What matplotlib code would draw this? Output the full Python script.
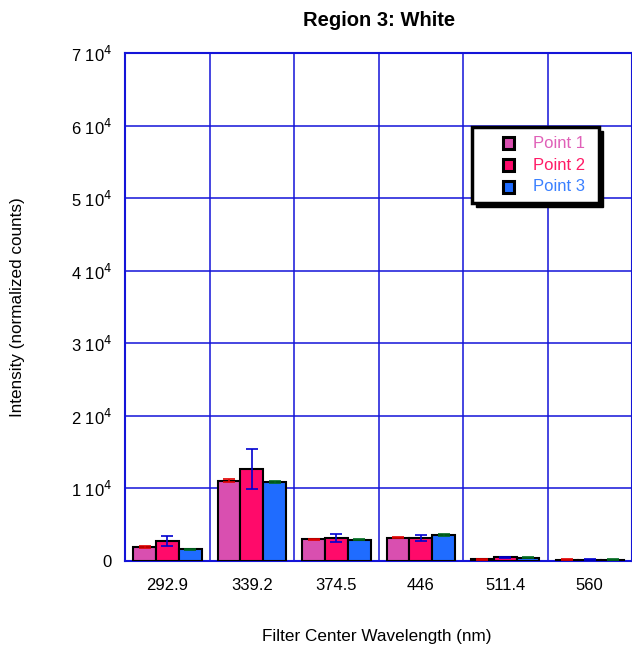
import matplotlib
matplotlib.use("Agg")
import matplotlib.pyplot as plt
import numpy as np
from matplotlib.patches import Rectangle

plt.rcParams['font.family'] = ['Liberation Sans', 'DejaVu Sans']

wavelengths = ["292.9", "339.2", "374.5", "446", "511.4", "560"]
point1 = [1970, 11100, 2990, 3210, 230, 200]
point2 = [2750, 12700, 3170, 3200, 510, 200]
point3 = [1610, 10900, 2940, 3580, 460, 200]
err1 = [150, 150, 60, 100, 40, 30]
err2 = [700, 2750, 550, 450, 60, 30]
err3 = [80, 200, 60, 100, 60, 30]

series_names = ["Point 1", "Point 2", "Point 3"]
bar_colors = ["#d94fb0", "#ff0a6a", "#1f6cff"]
text_colors = ["#e060b8", "#ff1a66", "#3a80ff"]
err_colors = ["#e00000", "#0000d0", "#006a20"]
grid_blue = "#1414d8"

fig = plt.figure(figsize=(6.32, 6.49), dpi=100)
ax = fig.add_axes([0.198, 0.1356, 0.802, 0.782])

x = np.arange(len(wavelengths))
w = 0.27
for i, (vals, errs) in enumerate(zip([point1, point2, point3], [err1, err2, err3])):
    pos = x + (i - 1) * w
    ax.bar(pos, vals, width=w, color=bar_colors[i], edgecolor="black",
           linewidth=1.5, zorder=3)
    ax.errorbar(pos, vals, yerr=errs, fmt="none", ecolor=err_colors[i],
                elinewidth=1.2, capsize=4, capthick=1.2, zorder=4)

ax.set_xlim(-0.5, 5.5)
ax.set_ylim(0, 70000)
ax.set_xticks(x)
ax.set_xticklabels(wavelengths, fontsize=12)
yt = np.arange(0, 70001, 10000)
ax.set_yticks(yt)
ax.set_yticklabels(["0"] + [f"{v // 10000} 10$^{{4}}$" for v in yt[1:]], fontsize=12)
ax.set_xticks(np.arange(-0.5, 5.6, 1.0), minor=True)
ax.tick_params(axis="x", which="both", length=0, pad=12)
ax.tick_params(axis="y", length=0, pad=9.5)

ax.grid(True, axis="y", color=grid_blue, linewidth=1.1, zorder=1)
ax.grid(True, axis="x", which="minor", color=grid_blue, linewidth=1.1, zorder=1)
ax.grid(False, axis="x", which="major")
for s in ax.spines.values():
    s.set_color(grid_blue)
    s.set_linewidth(1.5)

fig.text(379 / 632, 1 - 20 / 649, "Region 3: White", fontsize=14.5,
         fontweight="bold", ha="center", va="center")
fig.text(18 / 632, 1 - 307 / 649, "Intensity (normalized counts)", fontsize=12.3,
         rotation=90, ha="center", va="center")
fig.text(377 / 632, 1 - 637 / 649, "Filter Center Wavelength (nm)", fontsize=12.3,
         ha="center", va="center")

# legend box with drop shadow, in axes coordinates
lx0, ly0, lw, lh = 0.685, 0.705, 0.25, 0.15
ax.add_patch(Rectangle((lx0 + 0.007, ly0 - 0.007), lw, lh, transform=ax.transAxes,
                       facecolor="black", edgecolor="black", zorder=5, clip_on=False))
ax.add_patch(Rectangle((lx0, ly0), lw, lh, transform=ax.transAxes,
                       facecolor="white", edgecolor="black", linewidth=2.5,
                       zorder=6, clip_on=False))
for i, name in enumerate(series_names):
    yy = ly0 + lh - 0.032 - i * 0.043
    ax.add_patch(Rectangle((lx0 + 0.06, yy - 0.012), 0.022, 0.024,
                           transform=ax.transAxes, facecolor=bar_colors[i],
                           edgecolor="black", linewidth=2.2, zorder=7))
    ax.text(lx0 + 0.12, yy, name, transform=ax.transAxes, color=text_colors[i],
            fontsize=12, va="center", ha="left", zorder=7)

fig.savefig("out.png", dpi=100)
